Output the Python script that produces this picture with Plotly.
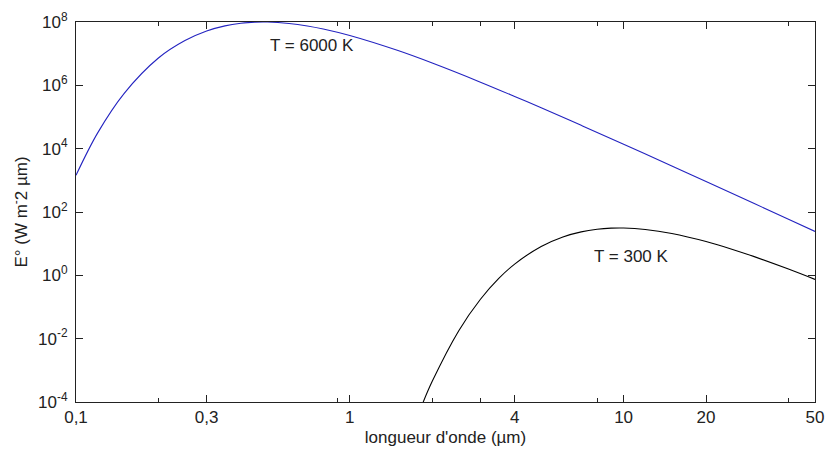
import plotly.graph_objects as go

# wavelength (µm) and spectral emittance
wl_6000 = [0.1, 0.12, 0.15, 0.2, 0.25, 0.3, 0.35, 0.4, 0.45, 0.5, 0.6, 0.7, 0.8,
           1.0, 1.5, 2, 3, 4, 5, 7, 10, 15, 20, 30, 40, 50]
e_6000 = [1.44e3, 3.15e4, 5.6e5, 7.3e6, 2.6e7, 5.2e7, 7.55e7, 9.1e7, 9.88e7, 9.98e7,
          8.98e7, 7.49e7, 6.0e7, 3.74e7, 1.25e7, 5.05e6, 1.26e6, 4.45e5, 1.95e5,
          5.45e4, 1.38e4, 2.84e3, 918, 185, 59, 24.4]

wl_300 = [1.85, 2, 2.5, 3, 3.5, 4, 5, 6, 7, 8, 9, 10, 12, 15, 20, 25, 30, 40, 50]
e_300 = [9.5e-5, 4.5e-4, 1.79e-2, 0.176, 0.80, 2.27, 8.17, 16.3, 23.6, 28.5, 30.9,
         31.2, 28.1, 21.0, 11.7, 6.59, 3.90, 1.58, 0.744]

x_major = [0.1, 0.3, 1, 4, 10, 20, 50]
x_major_text = ["0,1", "0,3", "1", "4", "10", "20", "50"]
x_minor = [0.2, 0.9, 2, 3, 8, 40]
y_ticks = [1e-4, 1e-2, 1e0, 1e2, 1e4, 1e6, 1e8]
y_ticks_text = ["10<sup>-4</sup>", "10<sup>-2</sup>", "10<sup>0</sup>", "10<sup>2</sup>",
                "10<sup>4</sup>", "10<sup>6</sup>", "10<sup>8</sup>"]

fig = go.Figure()

fig.add_trace(go.Scatter(x=wl_6000, y=e_6000, mode="lines",
                         line=dict(color="#2323c0", width=1.1, shape="spline"),
                         showlegend=False))
fig.add_trace(go.Scatter(x=wl_300, y=e_300, mode="lines",
                         line=dict(color="black", width=1.1, shape="spline"),
                         showlegend=False))

font = dict(family="Liberation Sans, Arial, sans-serif", size=17, color="#222")

fig.add_annotation(x=-0.138, y=7.27, text="T = 6000 K", showarrow=False, font=font)
fig.add_annotation(x=1.027, y=0.61, text="T = 300 K", showarrow=False, font=font)

fig.update_layout(
    width=825, height=455,
    margin=dict(l=76, r=10, t=22, b=53),
    paper_bgcolor="white", plot_bgcolor="white",
    font=font,
    xaxis=dict(
        type="log", range=[-1, 1.69897], automargin=False,
        tickmode="array", tickvals=x_major, ticktext=x_major_text,
        ticks="inside", ticklen=7, tickcolor="#222", tickwidth=1,
        showline=True, linecolor="#222", linewidth=1, mirror="ticks",
        showgrid=False, zeroline=False,
        minor=dict(tickmode="array", tickvals=x_minor, ticks="inside",
                   ticklen=4, tickcolor="#222", showgrid=False),
        title=dict(text="longueur d'onde (µm)", standoff=4, font=font),
    ),
    yaxis=dict(
        type="log", range=[-4, 8], automargin=False,
        tickmode="array", tickvals=y_ticks, ticktext=y_ticks_text,
        ticks="inside", ticklen=7, tickcolor="#222", tickwidth=1,
        showline=True, linecolor="#222", linewidth=1, mirror="ticks",
        showgrid=False, zeroline=False, ticklabelstandoff=4,
        title=dict(text="E° (W m<sup>-</sup>2 µm)", standoff=6, font=font),
    ),
)

# drop the default page margin so the figure sits flush in the window
fig.write_html("out.html",
               config={"displayModeBar": False},
               post_script="document.body.style.margin='0';"
                           "document.body.style.overflow='hidden';")
